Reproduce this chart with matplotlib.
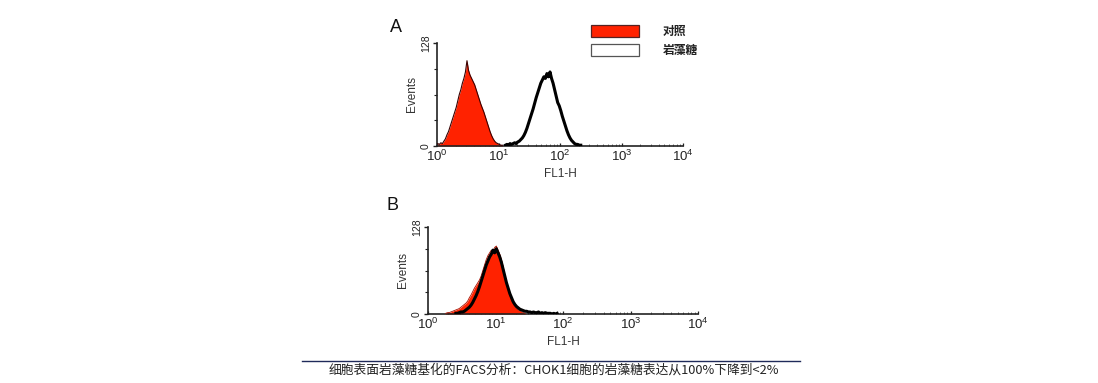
import numpy as np
import matplotlib
matplotlib.use("Agg")
import matplotlib.pyplot as plt
from matplotlib.patches import Rectangle
from matplotlib.lines import Line2D
from matplotlib.ticker import FixedLocator, LogLocator, NullFormatter

plt.rcParams['font.family'] = ['Liberation Sans', 'DejaVu Sans']
plt.rcParams['mathtext.fontset'] = 'custom'
plt.rcParams['mathtext.rm'] = 'Liberation Sans'

# ---- data: histogram counts per log-channel (channel width in decades) ----
channel_width = 0.025

a_control_start = 0.0
a_control = [3, 2, 4, 3, 6, 9, 14, 18, 24, 30, 36, 42, 48, 56, 64, 70, 78, 84, 92, 106,
             94, 88, 84, 80, 76, 70, 64, 58, 52, 47, 42, 36, 30, 24, 18, 13, 9, 6, 4, 3,
             2, 1, 1]

a_fucose_start = 1.10
a_fucose = [1, 2, 1, 3, 2, 3, 4, 3, 5, 6, 8, 10, 13, 17, 22, 28, 34, 40, 46, 53,
            60, 66, 72, 78, 82, 86, 84, 90, 86, 92, 84, 78, 70, 62, 54, 50, 44, 37, 31, 25,
            19, 14, 10, 7, 5, 3, 2, 2, 1, 1]

b_control_start = 0.25
b_control = [1, 2, 2, 3, 4, 5, 6, 7, 8, 10, 12, 14, 16, 19, 24, 28, 33, 38, 42, 46,
             50, 56, 64, 72, 80, 86, 90, 94, 92, 98, 100, 94, 88, 80, 70, 58, 46, 36, 27, 20,
             15, 11, 8, 6, 5, 3, 2, 1]

b_fucose_start = 0.40
b_fucose = [1, 1, 2, 3, 3, 4, 6, 8, 10, 13, 17, 22, 27, 33, 40, 48, 56, 64, 72, 78,
            84, 88, 94, 90, 96, 90, 84, 76, 66, 56, 46, 38, 30, 24, 18, 14, 11, 9, 7, 6,
            5, 4, 4, 3, 3, 2, 3, 2, 2, 3, 1, 2, 1, 2, 1, 1, 1, 0, 1, 0, 1]

x_ticks = [1, 10, 100, 1000, 10000]
x_ticklabels = [r'$\mathregular{10^{0}}$', r'$\mathregular{10^{1}}$', r'$\mathregular{10^{2}}$',
                r'$\mathregular{10^{3}}$', r'$\mathregular{10^{4}}$']
y_max = 128
y_ticks = [0, 128]
legend_labels = ['对照', '岩藻糖']
caption = '细胞表面岩藻糖基化的FACS分析：CHOK1细胞的岩藻糖表达从100%下降到<2%'

RED = '#ff2200'
W, H = 1098, 383

fig = plt.figure(figsize=(W / 100, H / 100), dpi=100)


def centers(start, counts):
    n = len(counts)
    return 10 ** (start + channel_width * (np.arange(n) + 0.5))


def setup(ax):
    ax.set_xscale('log')
    ax.set_xlim(1, 10000)
    ax.set_ylim(0, y_max)
    for s in ['top', 'right']:
        ax.spines[s].set_visible(False)
    for s in ['left', 'bottom']:
        ax.spines[s].set_linewidth(1.2)
        ax.spines[s].set_color('#222222')
    ax.xaxis.set_major_locator(FixedLocator(x_ticks))
    ax.set_xticklabels(x_ticklabels, fontsize=9.5, color='#222222')
    ax.xaxis.set_minor_locator(LogLocator(base=10, subs=np.arange(2, 10)))
    ax.xaxis.set_minor_formatter(NullFormatter())
    ax.set_yticks(y_ticks)
    ax.set_yticklabels([str(v) for v in y_ticks], rotation=90, va='center',
                       fontsize=7.5, color='#222222')
    ax.yaxis.set_minor_locator(FixedLocator([32, 64, 96]))
    ax.tick_params(axis='x', which='major', direction='in', length=2.5, width=0.9, pad=2,
                   color='#222222')
    ax.tick_params(axis='x', which='minor', direction='in', length=1.5, width=0.6,
                   color='#555555')
    ax.tick_params(axis='y', which='major', direction='out', length=3, width=1, pad=1.5,
                   color='#222222')
    ax.tick_params(axis='y', which='minor', direction='out', length=2, width=0.8,
                   color='#222222')
    ax.set_xlabel('FL1-H', fontsize=8.5, color='#333333', labelpad=3)
    ax.set_ylabel('Events', fontsize=8.5, color='#333333', labelpad=2)
    ax.patch.set_alpha(0)


# Panel A
axA = fig.add_axes([437 / W, 1 - 146 / H, 246 / W, 103 / H])
setup(axA)
xa = centers(a_control_start, a_control)
axA.fill_between(xa, a_control, 0, color=RED, linewidth=0, zorder=2)
axA.plot(xa, a_control, color='#3a0000', linewidth=0.8, zorder=3)
xf = centers(a_fucose_start, a_fucose)
axA.plot(xf, a_fucose, color='black', linewidth=2.2, zorder=4)

# Panel B
axB = fig.add_axes([428 / W, 1 - 314 / H, 270 / W, 87 / H])
setup(axB)
xb = centers(b_control_start, b_control)
axB.fill_between(xb, b_control, 0, color=RED, linewidth=0, zorder=2)
axB.plot(xb, b_control, color='#aa1100', linewidth=0.6, zorder=3)
xbf = centers(b_fucose_start, b_fucose)
axB.plot(xbf, b_fucose, color='black', linewidth=2.2, zorder=4)

# Panel letters
fig.text(390 / W, 1 - 28 / H, 'A', fontsize=13, va='center', ha='left', color='#111111')
fig.text(386 / W, 1 - 205 / H, 'B', fontsize=13, va='center', ha='left', color='#111111')

# Legend
fig.patches.append(Rectangle((591 / W, 1 - 37 / H), 48 / W, 12 / H, transform=fig.transFigure,
                             facecolor=RED, edgecolor='#552222', linewidth=0.9))
fig.patches.append(Rectangle((591 / W, 1 - 56 / H), 48 / W, 12 / H, transform=fig.transFigure,
                             facecolor='white', edgecolor='#555555', linewidth=0.9))
fig.text(663 / W, 1 - 31 / H, legend_labels[0], fontsize=8.5, fontweight='bold',
         family=['Noto Sans CJK SC', 'DejaVu Sans'], va='center', ha='left', color='#222222')
fig.text(663 / W, 1 - 50 / H, legend_labels[1], fontsize=8.5, fontweight='bold',
         family=['Noto Sans CJK SC', 'DejaVu Sans'], va='center', ha='left', color='#222222')

# Caption rule and text
fig.add_artist(Line2D([302 / W, 800 / W], [1 - 361 / H, 1 - 361 / H], transform=fig.transFigure,
                      color='#1f2a5a', linewidth=1.0))
fig.text(554 / W, 1 - 370 / H, caption, fontsize=9.2, ha='center', va='center',
         family=['Noto Sans CJK SC', 'DejaVu Sans'], color='#222222')

fig.savefig('out.png', dpi=100)
